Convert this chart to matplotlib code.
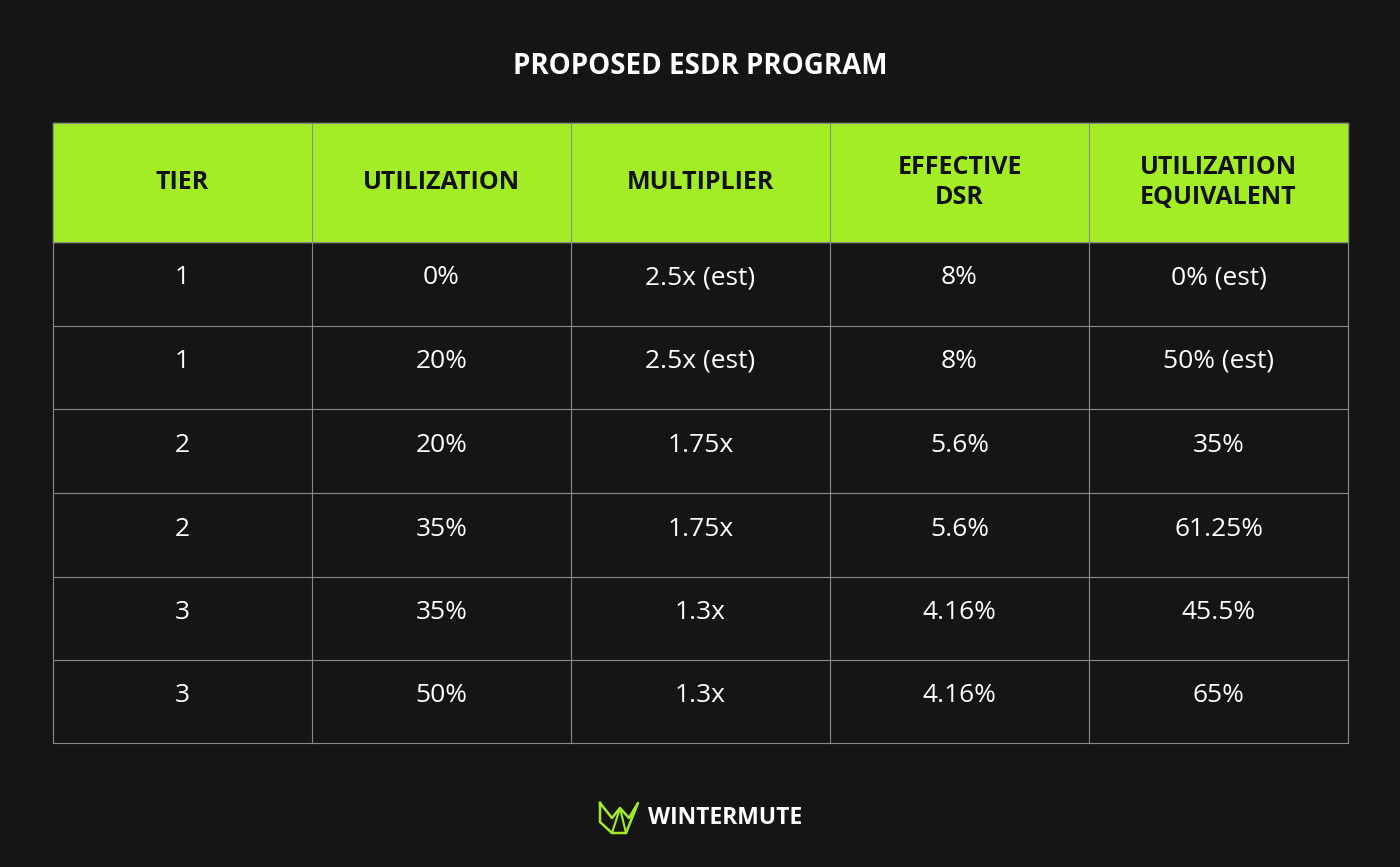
import matplotlib.pyplot as plt
from matplotlib.patches import Rectangle

BG = "#151515"
GREEN = "#a3ed27"
LINE = "#8a8a8a"
FONT = "Open Sans"

title = "PROPOSED ESDR PROGRAM"
headers = ["TIER", "UTILIZATION", "MULTIPLIER", "EFFECTIVE\nDSR", "UTILIZATION\nEQUIVALENT"]
tier = ["1", "1", "2", "2", "3", "3"]
utilization = ["0%", "20%", "20%", "35%", "35%", "50%"]
multiplier = ["2.5x (est)", "2.5x (est)", "1.75x", "1.75x", "1.3x", "1.3x"]
effective_dsr = ["8%", "8%", "5.6%", "5.6%", "4.16%", "4.16%"]
util_equiv = ["0% (est)", "50% (est)", "35%", "61.25%", "45.5%", "65%"]

col_edges = [53, 312, 571, 830, 1089, 1348]
row_edges = [123, 242, 326, 409, 493, 577, 660, 743]

fig = plt.figure(figsize=(14, 8.67), dpi=100, facecolor=BG)
ax = fig.add_axes([0, 0, 1, 1])
ax.set_xlim(0, 1400)
ax.set_ylim(867, 0)
ax.axis("off")
ax.set_facecolor(BG)

ax.text(700, 66, title, color="white", fontsize=20, fontweight="bold",
        family=FONT, ha="center", va="center")

# header band
ax.add_patch(Rectangle((col_edges[0], row_edges[0]), col_edges[-1] - col_edges[0],
                       row_edges[1] - row_edges[0], color=GREEN, zorder=1))
for i, h in enumerate(headers):
    cx = (col_edges[i] + col_edges[i + 1]) / 2
    ax.text(cx, (row_edges[0] + row_edges[1]) / 2, h, color="#111111", fontsize=18,
            fontweight="bold", family=FONT, ha="center", va="center",
            linespacing=1.3)

columns = [tier, utilization, multiplier, effective_dsr, util_equiv]
for r in range(len(tier)):
    cy = (row_edges[r + 1] + row_edges[r + 2]) / 2 - 6
    for c, col in enumerate(columns):
        cx = (col_edges[c] + col_edges[c + 1]) / 2
        ax.text(cx, cy, col[r], color="white", fontsize=19, family=FONT,
                ha="center", va="center")

# grid lines
for x in col_edges:
    ax.plot([x, x], [row_edges[0], row_edges[-1]], color=LINE, lw=0.8, zorder=2)
for y in row_edges[1:]:
    ax.plot([col_edges[0], col_edges[-1]], [y, y], color=LINE, lw=0.8, zorder=2)
ax.plot([col_edges[0], col_edges[-1]], [row_edges[0]] * 2, color=LINE, lw=0.8, zorder=2)

# logo
ax.plot([600, 612, 620, 629, 638, 626, 612, 600, 600], [803, 818, 808, 818, 803, 833, 833, 822, 803],
        color=GREEN, lw=1.8)
ax.plot([612, 620, 626], [833, 808, 833], color=GREEN, lw=1.5)
ax.text(648, 818, "WINTERMUTE", color="white", fontsize=16.5, fontweight="bold",
        family=FONT, ha="left", va="center")

fig.savefig("out.png", dpi=100, facecolor=BG)
